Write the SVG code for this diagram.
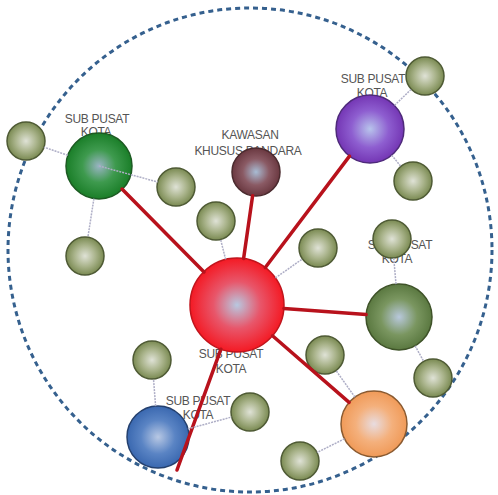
<svg xmlns="http://www.w3.org/2000/svg" width="498" height="495" viewBox="0 0 498 495">
<defs>
<radialGradient id="gOl"><stop offset="0" stop-color="#dfe2d6"/><stop offset="0.55" stop-color="#aab48c"/><stop offset="1" stop-color="#7a8a52"/></radialGradient>
<radialGradient id="gGr"><stop offset="0" stop-color="#9ab4c4"/><stop offset="0.5" stop-color="#3e9a4e"/><stop offset="1" stop-color="#1a7e28"/></radialGradient>
<radialGradient id="gRd"><stop offset="0" stop-color="#b8c8e0"/><stop offset="0.5" stop-color="#e8566a"/><stop offset="1" stop-color="#f41a24"/></radialGradient>
<radialGradient id="gPu"><stop offset="0" stop-color="#b8c4ec"/><stop offset="0.55" stop-color="#8e5ed0"/><stop offset="1" stop-color="#7436b4"/></radialGradient>
<radialGradient id="gBr"><stop offset="0" stop-color="#a8bcd4"/><stop offset="0.55" stop-color="#8a5a64"/><stop offset="1" stop-color="#6a3840"/></radialGradient>
<radialGradient id="gDo"><stop offset="0" stop-color="#b8c8dc"/><stop offset="0.55" stop-color="#7a9660"/><stop offset="1" stop-color="#5a7840"/></radialGradient>
<radialGradient id="gOr"><stop offset="0" stop-color="#e8dce0"/><stop offset="0.55" stop-color="#f4b07c"/><stop offset="1" stop-color="#f09a58"/></radialGradient>
<radialGradient id="gBl"><stop offset="0" stop-color="#b8c8e4"/><stop offset="0.55" stop-color="#5a84c4"/><stop offset="1" stop-color="#3a68b0"/></radialGradient>
</defs>
<style>
.lbl{font-family:"Liberation Sans",Arial,sans-serif;font-size:12px;fill:#555555;text-anchor:middle;letter-spacing:-0.3px}
.sm{fill:url(#gOl);stroke:#4e5a34;stroke-width:1.5}
.red{stroke:#b8121c;stroke-width:3.5;stroke-linecap:round}
.thin{stroke:#aeaec6;stroke-width:1.5;stroke-dasharray:2 1}
</style>
<rect width="498" height="495" fill="#ffffff"/>
<circle id="boundary" cx="250" cy="250" r="242" fill="none" stroke="#35608e" stroke-width="3" stroke-dasharray="5 4"/>

<g id="node-green">
<text class="lbl" x="97" y="123">SUB PUSAT</text><text class="lbl" x="96" y="136">KOTA</text>
<circle cx="99" cy="166" r="33" fill="url(#gGr)" stroke="#1c5a22" stroke-width="1.5"/>
</g>
<g id="node-brown">
<text class="lbl" x="250" y="139">KAWASAN</text><text class="lbl" x="248" y="155">KHUSUS BANDARA</text>
<circle cx="256" cy="172" r="24" fill="url(#gBr)" stroke="#4a2a2e" stroke-width="1.5"/>
</g>
<g id="node-purple">
<text class="lbl" x="373" y="83">SUB PUSAT</text><text class="lbl" x="372" y="97">KOTA</text>
<circle cx="370" cy="129" r="34" fill="url(#gPu)" stroke="#4e2a7a" stroke-width="1.5"/>
</g>
<g id="node-darkolive">
<text class="lbl" x="400" y="249">SUB PUSAT</text><text class="lbl" x="397" y="263">KOTA</text>
<circle cx="399" cy="317" r="33" fill="url(#gDo)" stroke="#3e5228" stroke-width="1.5"/>
</g>
<g id="node-red">
<text class="lbl" x="231" y="358">SUB PUSAT</text><text class="lbl" x="231" y="373">KOTA</text>
<circle cx="237" cy="305" r="47" fill="url(#gRd)" stroke="#c0141c" stroke-width="1.5"/>
</g>
<g id="node-orange">
<circle cx="374" cy="424" r="33" fill="url(#gOr)" stroke="#8a5a30" stroke-width="1.5"/>
</g>
<g id="node-blue">
<text class="lbl" x="198" y="405">SUB PUSAT</text><text class="lbl" x="198" y="419">KOTA</text>
<circle cx="158" cy="437" r="31" fill="url(#gBl)" stroke="#24406e" stroke-width="1.5"/>
</g>

<g id="node-s1"><circle class="sm" cx="26" cy="141" r="19"/></g>
<g id="node-s2"><circle class="sm" cx="176" cy="187" r="19"/></g>
<g id="node-s3"><circle class="sm" cx="85" cy="256" r="19"/></g>
<g id="node-s4"><circle class="sm" cx="216" cy="221" r="19"/></g>
<g id="node-s5"><circle class="sm" cx="425" cy="76" r="19"/></g>
<g id="node-s6"><circle class="sm" cx="413" cy="181" r="19"/></g>
<g id="node-s7"><circle class="sm" cx="318" cy="248" r="19"/></g>
<g id="node-s8"><circle class="sm" cx="392" cy="239" r="19"/></g>
<g id="node-s9"><circle class="sm" cx="433" cy="378" r="19"/></g>
<g id="node-s10"><circle class="sm" cx="325" cy="355" r="19"/></g>
<g id="node-s11"><circle class="sm" cx="300" cy="461" r="19"/></g>
<g id="node-s12"><circle class="sm" cx="152" cy="360" r="19"/></g>
<g id="node-s13"><circle class="sm" cx="250" cy="412" r="19"/></g>

<g id="connectors">
<line class="red" x1="204" y1="272" x2="122" y2="189"/>
<line class="red" x1="243.6" y1="258.5" x2="252.6" y2="195.8"/>
<line class="red" x1="265.3" y1="267.5" x2="349.5" y2="156.1"/>
<line class="red" x1="283.9" y1="308.5" x2="366.1" y2="314.6"/>
<line class="red" x1="272.5" y1="335.8" x2="349.1" y2="402.4"/>
<line class="red" x1="220.9" y1="349.2" x2="177" y2="470"/>
<line class="thin" x1="67.8" y1="155.3" x2="44" y2="147.2"/>
<line class="thin" x1="99" y1="166" x2="157.7" y2="182" stroke="#8a9a9a"/>
<line class="thin" x1="93.9" y1="198.6" x2="87.9" y2="237.2"/>
<line class="thin" x1="225.6" y1="259.4" x2="220.6" y2="239.4"/>
<line class="thin" x1="275.4" y1="277.9" x2="302.5" y2="258.9"/>
<line class="thin" x1="394.5" y1="105.4" x2="411.3" y2="89.2"/>
<line class="thin" x1="391.7" y1="155.2" x2="400.9" y2="166.4"/>
<line class="thin" x1="396" y1="284.1" x2="393.7" y2="257.9"/>
<line class="thin" x1="415.1" y1="345.8" x2="423.7" y2="361.4"/>
<line class="thin" x1="354.9" y1="397.1" x2="336" y2="370.5"/>
<line class="thin" x1="344.5" y1="438.8" x2="317" y2="452.5"/>
<line class="thin" x1="155.6" y1="406.1" x2="153.5" y2="379"/>
<line class="thin" x1="187.9" y1="428.9" x2="231.7" y2="417"/>
</g>
</svg>
